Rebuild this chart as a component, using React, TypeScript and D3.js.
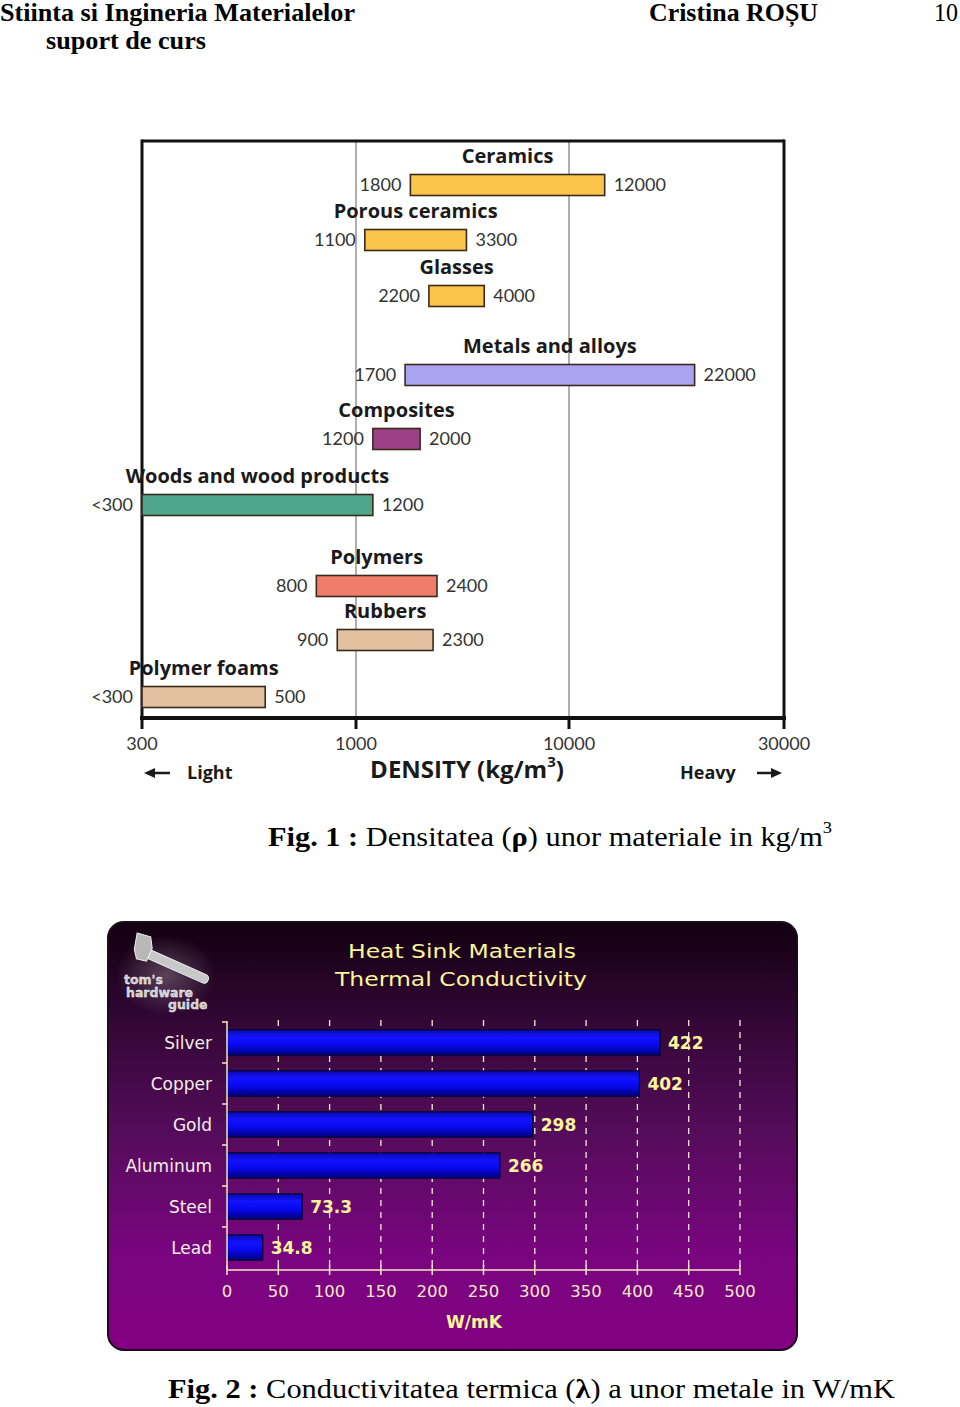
import React from "react";
import * as d3 from "d3";

// ---------- Data: Fig. 1 (density) ----------
const materials = [
  "Ceramics",
  "Porous ceramics",
  "Glasses",
  "Metals and alloys",
  "Composites",
  "Woods and wood products",
  "Polymers",
  "Rubbers",
  "Polymer foams",
];
const densityLo = [1800, 1100, 2200, 1700, 1200, 300, 800, 900, 300];
const densityHi = [12000, 3300, 4000, 19000, 2000, 1200, 2400, 2300, 600];
const loLabels = ["1800", "1100", "2200", "1700", "1200", "<300", "800", "900", "<300"];
const hiLabels = ["12000", "3300", "4000", "22000", "2000", "1200", "2400", "2300", "500"];
const densityTicks = [300, 1000, 10000, 30000];
const densityGrid = [1000, 10000];

// ---------- Data: Fig. 2 (thermal conductivity) ----------
const metals = ["Silver", "Copper", "Gold", "Aluminum", "Steel", "Lead"];
const conductivity = [422, 402, 298, 266, 73.3, 34.8];
const conductivityLabels = ["422", "402", "298", "266", "73.3", "34.8"];
const kTicks = [0, 50, 100, 150, 200, 250, 300, 350, 400, 450, 500];

// ---------- Styles ----------
const materialColors = [
  "#fbc54c", "#fbc54c", "#fbc54c", "#aaa4f0", "#9c4185",
  "#4ea78a", "#f07d6c", "#e2c0a0", "#e2c0a0",
];
const rowCenters = [185, 240, 296, 375, 439, 505, 586, 640, 697];

const serif = "'Liberation Serif', 'Times New Roman', serif";
const gill = "Lato, 'Open Sans', sans-serif";
const gillBold = "'Open Sans', Lato, sans-serif";
const pix = "'DejaVu Sans', Verdana, sans-serif";

function Fig1() {
  const x = d3
    .scaleLog()
    .domain(densityTicks)
    .range([142, 356, 569, 784]);
  const y = d3.scaleOrdinal<string, number>().domain(materials).range(rowCenters);
  const top = 141;
  const bottom = 718;
  const barH = 21;
  return (
    <g>
      {densityGrid.map((v) => (
        <line key={v} x1={x(v)} x2={x(v)} y1={top} y2={bottom} stroke="#7a7a7a" strokeWidth={1.2} />
      ))}
      {/* frame */}
      <line x1={142} x2={784} y1={top} y2={top} stroke="#111" strokeWidth={3} />
      <line x1={142} x2={142} y1={top - 1.5} y2={bottom} stroke="#111" strokeWidth={3} />
      <line x1={784} x2={784} y1={top - 1.5} y2={bottom} stroke="#111" strokeWidth={3} />
      <line x1={140} x2={786} y1={bottom} y2={bottom} stroke="#111" strokeWidth={4} />
      {densityTicks.map((v) => (
        <g key={v}>
          <line x1={x(v)} x2={x(v)} y1={bottom} y2={bottom + 11} stroke="#111" strokeWidth={3} />
          <text x={x(v)} y={745} textAnchor="middle" dominantBaseline="middle" fontFamily={gill} fontSize={18} fill="#333">
            {d3.format("d")(v)}
          </text>
        </g>
      ))}
      {materials.map((m, i) => {
        const x0 = x(densityLo[i]);
        const x1 = x(densityHi[i]);
        const cy = y(m);
        return (
          <g key={m}>
            <rect x={x0} y={cy - barH / 2} width={x1 - x0} height={barH} fill={materialColors[i]} stroke="#3b2a1c" strokeWidth={1.6} />
            <text x={(x0 + x1) / 2} y={cy - 27} textAnchor="middle" dominantBaseline="middle" fontFamily={gillBold} fontWeight={700} fontSize={20} fill="#1a1a1a">
              {m}
            </text>
            <text x={x0 - 9} y={cy + 1} textAnchor="end" dominantBaseline="middle" fontFamily={gill} fontSize={18} fill="#333">
              {loLabels[i]}
            </text>
            <text x={x1 + 9} y={cy + 1} textAnchor="start" dominantBaseline="middle" fontFamily={gill} fontSize={18} fill="#333">
              {hiLabels[i]}
            </text>
          </g>
        );
      })}
      {/* axis title */}
      <text x={467} y={772} textAnchor="middle" dominantBaseline="middle" fontFamily={gillBold} fontWeight={700} fontSize={24} fill="#1a1a1a">
        DENSITY (kg/m<tspan fontSize={15} dy={-9}>3</tspan><tspan dy={9}>)</tspan>
      </text>
      <text x={187} y={774} dominantBaseline="middle" fontFamily={gillBold} fontWeight={700} fontSize={18} fill="#1a1a1a">Light</text>
      <path d="M148,773 L170,773" stroke="#1a1a1a" strokeWidth={2.5} />
      <path d="M144,773 L155,768 L155,778 Z" fill="#1a1a1a" />
      <text x={680} y={774} dominantBaseline="middle" fontFamily={gillBold} fontWeight={700} fontSize={18} fill="#1a1a1a">Heavy</text>
      <path d="M757,773 L778,773" stroke="#1a1a1a" strokeWidth={2.5} />
      <path d="M782,773 L771,768 L771,778 Z" fill="#1a1a1a" />
    </g>
  );
}

function Fig2() {
  const x = d3.scaleLinear().domain([0, 500]).range([227, 740]);
  const y = d3.scaleBand<string>().domain(metals).range([1022, 1268]).paddingInner(0.38).paddingOuter(0.19);
  const cream = "#f3e9c6";
  const yellow = "#fcf59a";
  return (
    <g>
      <defs>
        <linearGradient id="bg2" x1="0" y1="0" x2="0" y2="1">
          <stop offset="0" stopColor="#12000f" />
          <stop offset="0.2" stopColor="#2e0630" />
          <stop offset="0.5" stopColor="#560c5c" />
          <stop offset="0.78" stopColor="#7a0480" />
          <stop offset="1" stopColor="#820082" />
        </linearGradient>
        <linearGradient id="bar2" x1="0" y1="0" x2="0" y2="1">
          <stop offset="0" stopColor="#0a0aa8" />
          <stop offset="0.3" stopColor="#1212ff" />
          <stop offset="0.6" stopColor="#0808ee" />
          <stop offset="1" stopColor="#00007a" />
        </linearGradient>
        <radialGradient id="logoGlow" cx="0.5" cy="0.5" r="0.5">
          <stop offset="0" stopColor="#ffffff" stopOpacity={0.25} />
          <stop offset="1" stopColor="#ffffff" stopOpacity={0} />
        </radialGradient>
      </defs>
      <rect x={108} y={922} width={689} height={428} rx={16} fill="url(#bg2)" stroke="#1a0a1a" strokeWidth={2} />
      {/* logo */}
      <ellipse cx={166} cy={975} rx={50} ry={40} fill="url(#logoGlow)" />
      <g transform="translate(168,962) rotate(24)">
        <rect x={-30} y={-4} width={74} height={9} rx={4} fill="#c8c8c8" stroke="#eee" strokeWidth={1} />
        <path d="M-40,-14 L-26,-16 L-20,-6 L-20,8 L-30,10 L-36,2 Z" fill="#b8b8b8" stroke="#f0f0f0" strokeWidth={1} />
      </g>
      <text x={124} y={984} fontFamily={pix} fontWeight={700} fontSize={12.5} fill="#cfcfcf" stroke="#fff" strokeWidth={0.3}>tom's</text>
      <text x={126} y={997} fontFamily={pix} fontWeight={700} fontSize={12.5} fill="#cfcfcf" stroke="#fff" strokeWidth={0.3}>hardware</text>
      <text x={168} y={1009} fontFamily={pix} fontWeight={700} fontSize={12.5} fill="#cfcfcf" stroke="#fff" strokeWidth={0.3}>guide</text>
      {/* title */}
      <text x={462} y={952} textAnchor="middle" dominantBaseline="middle" fontFamily={pix} fontSize={20} fill={yellow} textLength={228} lengthAdjust="spacingAndGlyphs">
        Heat Sink Materials
      </text>
      <text x={461} y={980} textAnchor="middle" dominantBaseline="middle" fontFamily={pix} fontSize={20} fill={yellow} textLength={252} lengthAdjust="spacingAndGlyphs">
        Thermal Conductivity
      </text>
      {/* dashed grid */}
      {kTicks.slice(1).map((t) => (
        <line key={t} x1={x(t)} x2={x(t)} y1={1020} y2={1268} stroke="#f4ecd8" strokeWidth={1.3} strokeDasharray="6,6" />
      ))}
      {/* bars */}
      {metals.map((m, i) => {
        const by = y(m) as number;
        return (
          <g key={m}>
            <rect x={x(0)} y={by} width={x(conductivity[i]) - x(0)} height={y.bandwidth()} fill="url(#bar2)" stroke="#050530" strokeWidth={1.2} />
            <text x={x(conductivity[i]) + 8} y={by + y.bandwidth() / 2 + 1} dominantBaseline="middle" fontFamily={pix} fontWeight={700} fontSize={17} fill={yellow}>
              {conductivityLabels[i]}
            </text>
            <text x={212} y={by + y.bandwidth() / 2 + 1} textAnchor="end" dominantBaseline="middle" fontFamily={pix} fontSize={17} fill="#f4eee4">
              {m}
            </text>
          </g>
        );
      })}
      {/* y axis */}
      <line x1={x(0)} x2={x(0)} y1={1021} y2={1270} stroke={cream} strokeWidth={1.5} />
      {metals.map((m) => (
        <line key={m} x1={x(0) - 5} x2={x(0)} y1={(y(m) as number) - (y.step() - y.bandwidth()) / 2} y2={(y(m) as number) - (y.step() - y.bandwidth()) / 2} stroke={cream} strokeWidth={1.5} />
      ))}
      {/* x axis */}
      <line x1={x(0)} x2={x(500)} y1={1270} y2={1270} stroke={cream} strokeWidth={1.5} />
      {kTicks.map((t) => (
        <g key={t}>
          <line x1={x(t)} x2={x(t)} y1={1265} y2={1275} stroke={cream} strokeWidth={1.5} />
          <text x={x(t)} y={1292} textAnchor="middle" dominantBaseline="middle" fontFamily={pix} fontSize={16.5} fill={cream}>
            {t}
          </text>
        </g>
      ))}
      <text x={474} y={1323} textAnchor="middle" dominantBaseline="middle" fontFamily={pix} fontWeight={700} fontSize={17} fill={yellow}>
        W/mK
      </text>
    </g>
  );
}

export default function App() {
  return (
    <div style={{ position: "absolute", left: 0, top: 0 }}>
      <svg width={960} height={1407} viewBox="0 0 960 1407" style={{ display: "block", background: "#fff" }}>
        {/* header */}
        <text x={0} y={21} fontFamily={serif} fontWeight={700} fontSize={25} fill="#000" textLength={355} lengthAdjust="spacingAndGlyphs">
          Stiinta si Ingineria Materialelor
        </text>
        <text x={46} y={49} fontFamily={serif} fontWeight={700} fontSize={25} fill="#000" textLength={160} lengthAdjust="spacingAndGlyphs">
          suport de curs
        </text>
        <text x={649} y={21} fontFamily={serif} fontWeight={700} fontSize={25} fill="#000" textLength={169} lengthAdjust="spacingAndGlyphs">
          Cristina ROȘU
        </text>
        <text x={934} y={21} fontFamily={serif} fontSize={25} fill="#000" textLength={24} lengthAdjust="spacingAndGlyphs">
          10
        </text>
        <Fig1 />
        <text x={268} y={846} fontFamily={serif} fontSize={28} fill="#000" textLength={564} lengthAdjust="spacingAndGlyphs">
          <tspan fontWeight={700}>Fig. 1 :</tspan> Densitatea (<tspan fontWeight={700}>ρ</tspan>) unor materiale in kg/m
          <tspan fontSize={17} dy={-13}>3</tspan>
        </text>
        <Fig2 />
        <text x={168} y={1398} fontFamily={serif} fontSize={28} fill="#000" textLength={727} lengthAdjust="spacingAndGlyphs">
          <tspan fontWeight={700}>Fig. 2 :</tspan> Conductivitatea termica (<tspan fontWeight={700}>λ</tspan>) a unor metale in W/mK
        </text>
      </svg>
    </div>
  );
}
